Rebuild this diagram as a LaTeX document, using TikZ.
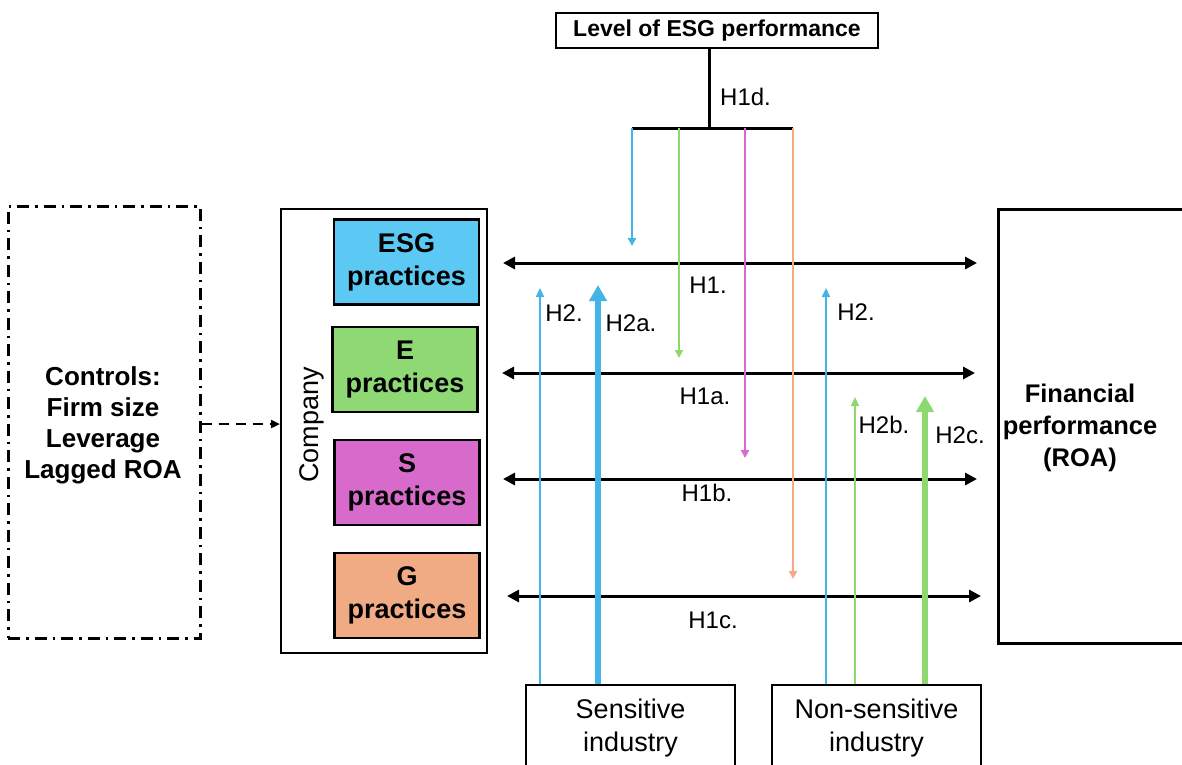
\documentclass[tikz,border=0pt]{standalone}
\usepackage{fontspec}
\setmainfont{Liberation Sans}
\usetikzlibrary{arrows.meta,positioning}
\definecolor{cblue}{HTML}{44B3E6}
\definecolor{cgreen}{HTML}{8ED870}
\definecolor{cmag}{HTML}{D66BCB}
\definecolor{corange}{HTML}{F5A985}
\definecolor{fesg}{HTML}{5BC9F4}
\definecolor{fe}{HTML}{8ED973}
\definecolor{fs}{HTML}{D86ACB}
\definecolor{fg}{HTML}{F1AB84}
\tikzset{
  lbl/.style={font=\fontsize{24}{28}\selectfont, inner sep=0pt},
  boldtxt/.style={font=\fontsize{26}{31}\selectfont\bfseries, align=center, inner sep=0pt},
  practice/.style={draw=black, line width=2.6pt, minimum width=145pt, minimum height=85pt, inner sep=0pt, align=center, font=\fontsize{27}{33}\selectfont\bfseries},
  plainbox/.style={draw=black, inner sep=0pt},
  dbl/.style={line width=3pt, {Triangle[length=12pt,width=12pt]}-{Triangle[length=12pt,width=12pt]}},
  thinup/.style={line width=2pt, -{Triangle[length=9pt,width=8pt]}},
  thickup/.style={line width=6.5pt, -{Triangle[length=16pt,width=17pt]}},
  thindown/.style={line width=2pt, -{Triangle[length=8pt,width=8pt]}},
}
\begin{document}
\begin{tikzpicture}[x=1pt,y=-1pt]
\useasboundingbox[fill=white] (0,0) rectangle (1182,764);

% top box and tree
\node[plainbox, line width=1.6pt, minimum width=322pt, minimum height=35pt, font=\fontsize{23}{27}\selectfont\bfseries] (level) at (717,30.5) {Level of ESG performance};
\coordinate (junc) at (709,128);
\coordinate (barL) at (632,128);
\coordinate (barR) at (793,128);
\draw[line width=3pt] (level.south -| junc) -- (junc);
\draw[line width=3pt] (barL) -- (barR);
\node[lbl, anchor=west] (h1d) at (720,97) {H1d.};

% controls
\node[draw=black, line width=3pt, dash pattern=on 12pt off 6pt on 2.5pt off 6pt, minimum width=192pt, minimum height=432pt, inner sep=0pt] (controls) at (104,422) {};
\node[boldtxt] (ctext) at (103,425) {Controls:\\Firm size\\Leverage\\Lagged ROA};

% company
\node[plainbox, line width=2pt, minimum width=206pt, minimum height=444pt] (company) at (384,431) {};
\node[font=\fontsize{27}{32}\selectfont, rotate=90, inner sep=0pt] (comptxt) at (312,425) {Company};
\draw[line width=2.2pt, dash pattern=on 10pt off 7pt, -{Triangle[length=9pt,width=8pt]}] (controls.east |- 0,424) -- (company.west |- 0,424);

\node[practice, fill=fesg] (esg) at (406.5,262) {ESG\\practices};
\node[practice, fill=fe] (e) at (405,369.5) {E\\practices};
\node[practice, fill=fs] (s) at (407,482.5) {S\\practices};
\node[practice, fill=fg] (g) at (407,595.5) {G\\practices};

% financial performance
\node[plainbox, line width=3pt, minimum width=206pt, minimum height=434pt] (fin) at (1101,426) {};
\node[boldtxt, font=\fontsize{25.5}{32}\selectfont\bfseries] (fintxt) at (1080,428) {Financial\\performance\\(ROA)};

% industry boxes
\node[plainbox, line width=1.5pt, minimum width=209pt, minimum height=86pt, align=center, font=\fontsize{27}{33}\selectfont] (sens) at (630.5,728) {Sensitive\\industry};
\node[plainbox, line width=1.5pt, minimum width=209pt, minimum height=86pt, align=center, font=\fontsize{27}{33}\selectfont] (nons) at (876.5,728) {Non-sensitive\\industry};

% horizontal double arrows
\coordinate (a1l) at (503,263); \coordinate (a1r) at (977,263);
\coordinate (a2l) at (502,373); \coordinate (a2r) at (975,373);
\coordinate (a3l) at (503,479); \coordinate (a3r) at (977,479);
\coordinate (a4l) at (507,596); \coordinate (a4r) at (981,596);
\draw[dbl] (a1l) -- (a1r);
\draw[dbl] (a2l) -- (a2r);
\draw[dbl] (a3l) -- (a3r);
\draw[dbl] (a4l) -- (a4r);
\node[lbl] (h1) at (708,285) {H1.};
\node[lbl] (h1a) at (705,396) {H1a.};
\node[lbl] (h1b) at (707,493) {H1b.};
\node[lbl] (h1c) at (713,620) {H1c.};

% down arrows from the H1d bar
\coordinate (d1) at (632,246);
\coordinate (d2) at (679,358);
\coordinate (d3) at (745,458);
\coordinate (d4) at (793,579);
\draw[thindown, cblue] (barL) -- (d1);
\draw[thindown, cgreen] (barL -| d2) -- (d2);
\draw[thindown, cmag] (barL -| d3) -- (d3);
\draw[thindown, corange] (barR) -- (d4);

% up arrows from industries
\coordinate (u1) at (540,288);
\coordinate (u2) at (598,285);
\coordinate (u3) at (826,288);
\coordinate (u4) at (855,397);
\coordinate (u5) at (925,396);
\draw[thinup, cblue] (sens.north -| u1) -- (u1);
\draw[thickup, cblue] (sens.north -| u2) -- (u2);
\draw[thinup, cblue] (nons.north -| u3) -- (u3);
\draw[thinup, cgreen] (nons.north -| u4) -- (u4);
\draw[thickup, cgreen] (nons.north -| u5) -- (u5);
\node[lbl] (h2l) at (564,313) {H2.};
\node[lbl] (h2a) at (631,323) {H2a.};
\node[lbl] (h2r) at (856,312) {H2.};
\node[lbl] (h2b) at (884,425) {H2b.};
\node[lbl] (h2c) at (960,435) {H2c.};
\end{tikzpicture}
\end{document}
